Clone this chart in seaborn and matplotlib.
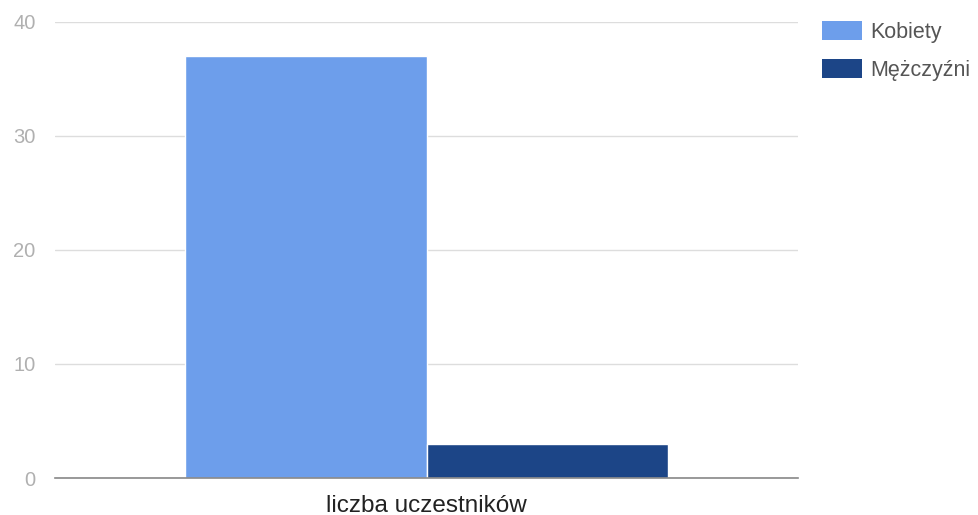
import matplotlib
matplotlib.use("Agg")
import matplotlib.pyplot as plt
import seaborn as sns
import pandas as pd
from matplotlib.patches import Patch

categories = ["liczba uczestników"]
series = ["Kobiety", "Mężczyźni"]
values_kobiety = [37]
values_mezczyzni = [3]
colors = ["#6d9eeb", "#1c4587"]
yticks = [0, 10, 20, 30, 40]

df = pd.DataFrame({
    "cat": categories * 2,
    "series": [series[0]] * len(categories) + [series[1]] * len(categories),
    "value": values_kobiety + values_mezczyzni,
})

sns.set_theme(style="white")
plt.rcParams['font.family'] = ['Liberation Sans', 'DejaVu Sans']

fig = plt.figure(figsize=(9.79, 5.15), dpi=100)
ax = fig.add_axes([55/979, 1-478/515, (798-55)/979, (478-22)/515])

sns.barplot(data=df, x="cat", y="value", hue="series", palette=colors,
            width=0.65, ax=ax, edgecolor="white", linewidth=1, legend=False,
            saturation=1)

ax.set_xlim(-0.5, 0.5)
ax.set_ylim(0, 40)
ax.set_yticks(yticks)
ax.set_yticklabels([str(t) for t in yticks], color="#b0b0b0", fontsize=14.5)
ax.yaxis.grid(True, color="#dddddd", linewidth=1)
ax.set_axisbelow(True)
for s in ["top", "right", "left"]:
    ax.spines[s].set_visible(False)
ax.spines["bottom"].set_color("#888888")
ax.spines["bottom"].set_linewidth(1.2)
ax.tick_params(axis="both", length=0)
ax.tick_params(axis="y", pad=14)
ax.tick_params(axis="x", pad=12)
for lbl in ax.get_xticklabels():
    lbl.set_fontsize(17.5)
    lbl.set_color("#222222")
ax.set_xlabel("")
ax.set_ylabel("")

handles = [Patch(facecolor=c, edgecolor="none", label=l) for c, l in zip(colors, series)]
fig.legend(handles=handles, loc="upper left", bbox_to_anchor=(822/979, 1-21/515),
           frameon=False, fontsize=15.5, labelcolor="#555555",
           borderpad=0, borderaxespad=0,
           handlelength=1.86, handleheight=1.0, handletextpad=0.37, labelspacing=0.72)

fig.savefig("out.png", dpi=100)
